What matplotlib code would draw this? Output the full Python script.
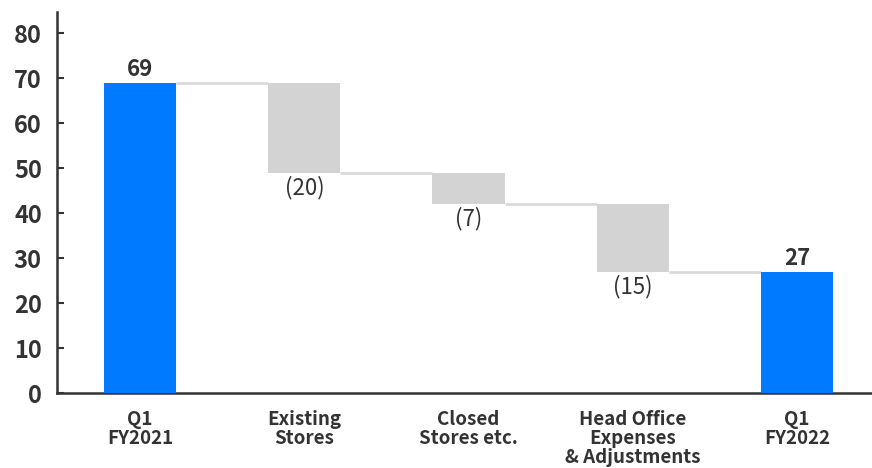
import numpy as np
import matplotlib
matplotlib.use("Agg")
import matplotlib.pyplot as plt

plt.rcParams['font.family'] = ['Noto Sans CJK JP', 'DejaVu Sans']

# operating profit bridge, Q1 FY2021 -> Q1 FY2022
categories = ['Q1\nFY2021', 'Existing\nStores', 'Closed\nStores etc.',
              'Head Office\nExpenses\n& Adjustments', 'Q1\nFY2022']
start_value = 69
changes = [-20, -7, -15]
end_value = 27
yticks = [0, 10, 20, 30, 40, 50, 60, 70, 80]

blue = '#007bff'
grey = '#d3d3d3'
dark = '#333333'
width = 0.44

fig = plt.figure(figsize=(8.72, 4.68), dpi=100)
ax = fig.add_axes([0.0654, 0.160, 0.9346, 0.814])

x = np.arange(len(categories))
levels = [start_value]
for c in changes:
    levels.append(levels[-1] + c)

# totals
ax.bar(x[0], start_value, width, color=blue, zorder=3)
ax.bar(x[-1], end_value, width, color=blue, zorder=3)
ax.text(x[0], start_value + 0.4, str(start_value), ha='center', va='bottom',
        fontsize=16, fontweight='bold', color=dark)
ax.text(x[-1], end_value + 0.4, str(end_value), ha='center', va='bottom',
        fontsize=16, fontweight='bold', color=dark)

# steps
for i, c in enumerate(changes):
    top = levels[i]
    bottom = levels[i + 1]
    ax.bar(x[i + 1], top - bottom, width, bottom=bottom, color=grey, zorder=3)
    ax.text(x[i + 1], bottom - 0.6, '(%d)' % abs(c), ha='center', va='top',
            fontsize=16, color=dark)

# connector lines
for i, lv in enumerate(levels):
    ax.plot([x[i] + width / 2, x[i + 1] - width / 2], [lv, lv],
            color='#dadada', lw=2, zorder=2, solid_capstyle='butt')

ax.set_xlim(-0.506, 4.457)
ax.set_ylim(0, 84.7)
ax.set_yticks(yticks)
ax.set_xticks(x)
ax.set_xticklabels(categories, fontsize=13.5, fontweight='bold', color=dark,
                   linespacing=1.0)
ax.tick_params(axis='x', length=0, pad=12)
ax.tick_params(axis='y', direction='in', length=5, width=1.5, color=dark,
               labelsize=17, labelcolor=dark, pad=11)
for lab in ax.get_yticklabels():
    lab.set_fontweight('bold')

for s in ['top', 'right']:
    ax.spines[s].set_visible(False)
ax.spines['left'].set_color(dark)
ax.spines['left'].set_linewidth(1.8)
ax.spines['bottom'].set_color(dark)
ax.spines['bottom'].set_linewidth(1.8)

fig.savefig('out.png', dpi=100)
